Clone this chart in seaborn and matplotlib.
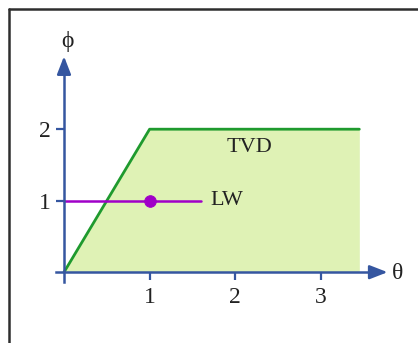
import matplotlib
matplotlib.use("Agg")
import matplotlib.pyplot as plt
from matplotlib.lines import Line2D
import seaborn as sns
import pandas as pd

# Flux-limiter regions: TVD region and the Lax-Wendroff limiter
tvd_theta = [0.0, 1.0, 3.45]
tvd_phi = [0.0, 2.0, 2.0]
lw_theta = [0.0, 1.6]
lw_phi = [1.0, 1.0]
lw_point_theta = [1.0]
lw_point_phi = [1.0]
x_ticks = [1, 2, 3]
y_ticks = [1, 2]

AXIS_BLUE = "#3556a0"
GREEN = "#1f9a2e"
FILL = "#dff2b5"
PURPLE = "#a000c8"

sns.set_theme(style="white")
plt.rcParams["font.family"] = ["Liberation Serif", "DejaVu Serif"]

fig = plt.figure(figsize=(4.18, 3.43), dpi=100)
ax = fig.add_axes([0, 0, 1, 1])
ax.set_xlim(-64 / 85.6, (418 - 64) / 85.6)
ax.set_ylim((272.2 - 343) / 71.5, 272.2 / 71.5)

tvd = pd.DataFrame({"theta": tvd_theta, "phi": tvd_phi})
lw = pd.DataFrame({"theta": lw_theta, "phi": lw_phi})

ax.fill_between(tvd["theta"], 0, tvd["phi"], color=FILL, lw=0, zorder=1)
sns.lineplot(data=tvd, x="theta", y="phi", ax=ax, color=GREEN, lw=2.0,
             sort=False, zorder=3)
sns.lineplot(data=lw, x="theta", y="phi", ax=ax, color=PURPLE, lw=1.8,
             sort=False, zorder=4)
sns.scatterplot(x=lw_point_theta, y=lw_point_phi, ax=ax, color=PURPLE, s=70,
                edgecolor=PURPLE, zorder=5)

# axes drawn through the origin with arrow heads
for side in ["top", "right"]:
    ax.spines[side].set_visible(False)
ax.spines["left"].set_position(("data", 0))
ax.spines["bottom"].set_position(("data", 0))
ax.spines["left"].set_bounds(-0.14, 2.85)
ax.spines["bottom"].set_bounds(-0.09, 3.65)
for side in ["left", "bottom"]:
    ax.spines[side].set_color(AXIS_BLUE)
    ax.spines[side].set_linewidth(1.8)
    ax.spines[side].set_zorder(6)

ax.annotate("", xy=(0, 3.02), xytext=(0, 2.8),
            arrowprops=dict(arrowstyle="-|>,head_length=0.9,head_width=0.35",
                            color=AXIS_BLUE, lw=1.8, shrinkA=0, shrinkB=0))
ax.annotate("", xy=(3.78, 0), xytext=(3.6, 0),
            arrowprops=dict(arrowstyle="-|>,head_length=0.9,head_width=0.35",
                            color=AXIS_BLUE, lw=1.8, shrinkA=0, shrinkB=0))

ax.set_xticks(x_ticks)
ax.set_yticks(y_ticks)
ax.set_xticklabels([str(t) for t in x_ticks])
ax.set_yticklabels([str(t) for t in y_ticks])
ax.tick_params(axis="both", bottom=True, left=True, direction="out",
               length=5.5, width=1.6, color=AXIS_BLUE, labelsize=17,
               labelcolor="#222222")
ax.tick_params(axis="x", pad=5)
ax.tick_params(axis="y", pad=4)
ax.set_xlabel("")
ax.set_ylabel("")

ax.text(0.035, 3.22, "\u03d5", fontsize=17, ha="center", va="center",
        color="#222222")
ax.text(3.9, -0.02, "\u03b8", fontsize=17, ha="center", va="center",
        color="#222222")
ax.text(2.17, 1.74, "TVD", fontsize=16, ha="center", va="center",
        color="#222222")
ax.text(1.71, 1.0, "LW", fontsize=16, ha="left", va="center",
        color="#222222")

# frame around the figure panel
fx0 = 8.5 / 418
fy0 = 1 - 8.5 / 343
fig.add_artist(Line2D([fx0, 1.0], [fy0, fy0], transform=fig.transFigure,
                      color="#2e2e2e", lw=1.8))
fig.add_artist(Line2D([fx0, fx0], [0.0, fy0], transform=fig.transFigure,
                      color="#2e2e2e", lw=1.8))

fig.savefig("out.png", dpi=100)
